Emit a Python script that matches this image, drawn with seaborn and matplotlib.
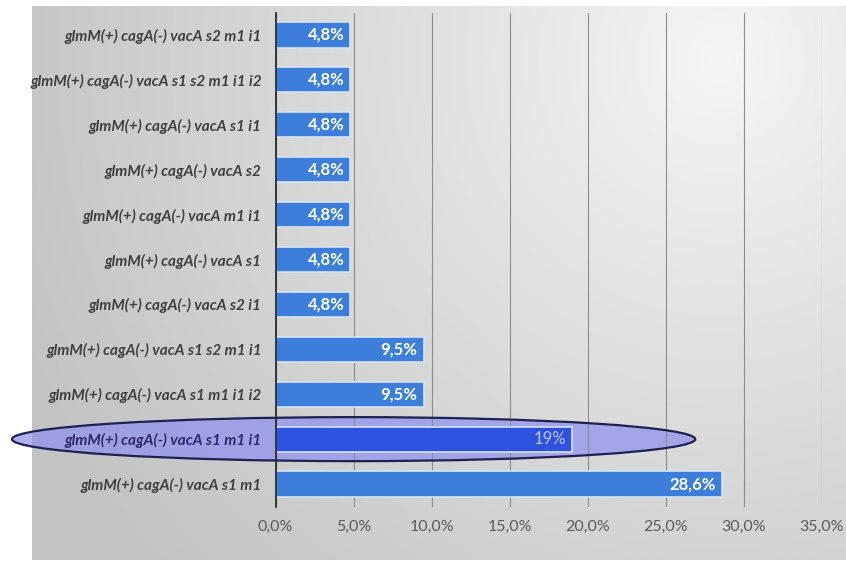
import numpy as np
import pandas as pd
import matplotlib
matplotlib.use("Agg")
import matplotlib.pyplot as plt
from matplotlib.patches import Ellipse
import seaborn as sns

# genotype combinations and their share of isolates (%)
genotypes = [
    "glmM(+) cagA(-) vacA s2 m1 i1",
    "glmM(+) cagA(-) vacA s1 s2 m1 i1 i2",
    "glmM(+) cagA(-) vacA s1 i1",
    "glmM(+) cagA(-) vacA s2",
    "glmM(+) cagA(-) vacA m1 i1",
    "glmM(+) cagA(-) vacA s1",
    "glmM(+) cagA(-) vacA s2 i1",
    "glmM(+) cagA(-) vacA s1 s2 m1 i1",
    "glmM(+) cagA(-) vacA s1 m1 i1 i2",
    "glmM(+) cagA(-) vacA s1 m1 i1",
    "glmM(+) cagA(-) vacA s1 m1",
]
shares = [4.8, 4.8, 4.8, 4.8, 4.8, 4.8, 4.8, 9.5, 9.5, 19.0, 28.6]
x_ticks = [0, 5, 10, 15, 20, 25, 30, 35]
highlight = "glmM(+) cagA(-) vacA s1 m1 i1"

df = pd.DataFrame({"genotype": genotypes, "share": shares})

sns.set_theme(style="white")
plt.rcParams["font.family"] = ["Lato", "DejaVu Sans"]

W, H = 846, 562
fig = plt.figure(figsize=(W / 100, H / 100), dpi=100)

# soft gray panel behind the chart
bg = fig.add_axes([0, 0, 1, 1])
bg.set_xlim(0, W)
bg.set_ylim(H, 0)
bg.axis("off")
yy, xx = np.mgrid[6:560, 32:846]
d = np.hypot(xx - 720.0, yy - 60.0)
shade = 0.965 - 0.2 * np.clip(d / 760.0, 0, 1) ** 0.9
bg.imshow(np.dstack([shade, shade, shade]), extent=(32, 846, 560, 6),
          interpolation="bilinear", aspect="auto")

ax = fig.add_axes([275.6 / W, 1 - 506.5 / H, (821.6 - 275.6) / W, (506.5 - 12.5) / H])
ax.patch.set_alpha(0)

base_blue = "#3c7ed9"
palette = {g: ("#2c52df" if g == highlight else base_blue) for g in genotypes}
sns.barplot(data=df, x="share", y="genotype", hue="genotype", palette=palette,
            order=genotypes, orient="h", width=0.56, saturation=1,
            edgecolor="#d6e4f5", linewidth=1.2, legend=False, ax=ax, zorder=2)

ax.set_xlim(0, 35)
ax.set_xticks(x_ticks)
ax.set_xticklabels([f"{t:.1f}".replace(".", ",") + "%" for t in x_ticks])
ax.set_xlabel("")
ax.set_ylabel("")
ax.xaxis.grid(True, color="#8c8c8c", linewidth=0.8)
ax.set_axisbelow(True)
for s in ["top", "right", "bottom"]:
    ax.spines[s].set_visible(False)
ax.spines["left"].set_color("#2a2a2a")
ax.spines["left"].set_linewidth(1.3)
ax.spines["left"].set_zorder(4)
ax.tick_params(axis="x", length=0, pad=10, labelsize=11.5, labelcolor="#5a5a5a")
ax.tick_params(axis="y", length=0, pad=10)
for lab in ax.get_yticklabels():
    lab.set_fontstyle("italic")
    lab.set_fontweight("bold")
    lab.set_fontsize(11)
    lab.set_color("#2a2a66" if lab.get_text() == highlight else "#3f3f3f")

# value labels inside the bar ends
for i, (g, v) in enumerate(zip(genotypes, shares)):
    txt = ("%g" % v).replace(".", ",") + "%"
    hl = g == highlight
    ax.text(v - 0.4, i, txt, ha="right", va="center",
            color="#c4c4f4" if hl else "white",
            fontsize=12, fontweight="normal" if hl else "bold", zorder=3)

# highlight ring around the top-ranked single combination
hi = genotypes.index(highlight)
ring_fill = Ellipse((5.0, hi), 43.8, 0.98, facecolor="#9090f0", alpha=0.72,
                    edgecolor="none", zorder=0.3, clip_on=False)
ring_edge = Ellipse((5.0, hi), 43.8, 0.98, facecolor="none",
                    edgecolor="#1c2150", linewidth=1.6, zorder=3, clip_on=False)
ax.add_patch(ring_fill)
ax.add_patch(ring_edge)

fig.savefig("out.png", dpi=100)
